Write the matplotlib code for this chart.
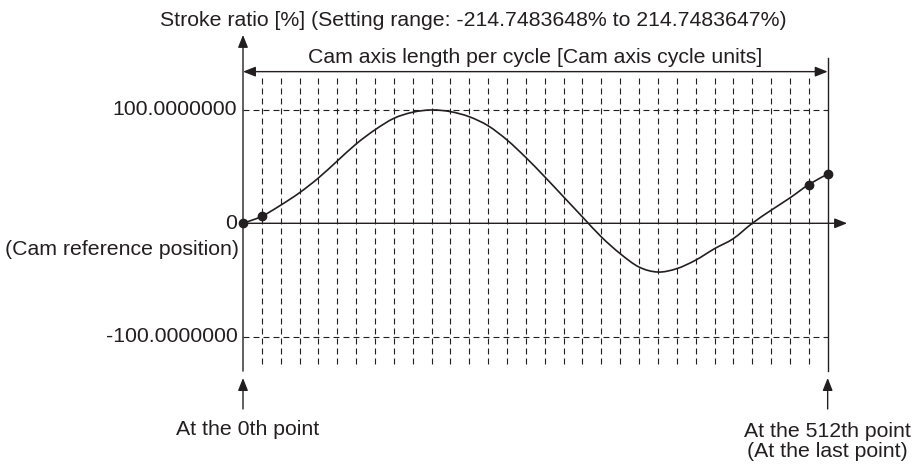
import matplotlib
matplotlib.use("Agg")
import matplotlib.pyplot as plt
from matplotlib.path import Path
from matplotlib.patches import PathPatch
import numpy as np

plt.rcParams['font.family'] = ['Liberation Sans', 'DejaVu Sans']
plt.rcParams['lines.scale_dashes'] = False

# curve values at each grid division (0th point .. last point)
stroke = [0, 6.2, 16, 27, 40, 55, 70, 82.5, 92.6, 98, 100, 98.5, 94, 86, 73.5,
          58, 41, 23.3, 5.6, -12, -26.8, -38.6, -43, -40, -32.5, -22.4, -13.5,
          0, 11.5, 22.4, 34.2, 43.4]
marked = [0, 1, 30, 31]
ytick_vals = [100, 0, -100]
ytick_labels = ["100.0000000", "0", "-100.0000000"]

title = "Stroke ratio [%] (Setting range: -214.7483648% to 214.7483647%)"
span_label = "Cam axis length per cycle [Cam axis cycle units]"
ref_label = "(Cam reference position)"
first_label = "At the 0th point"
last_label = "At the 512th point\n(At the last point)"

ink = '#231f20'
fs = 15.3
n = len(stroke) - 1
x = np.arange(len(stroke), dtype=float)
y = np.array(stroke, dtype=float)

fig = plt.figure(figsize=(9.14, 4.66), dpi=100)
ax = fig.add_axes([0, 0, 1, 1])
ax.axis('off')
sx = 18.86
sy = 1.1335
ax.set_xlim(-243 / sx, (914 - 243) / sx)
ax.set_ylim((223.3 - 466) / sy, 223.3 / sy)

dash = (0, (4.3, 2.9))
# vertical dashed grid
for k in range(1, n):
    ax.plot([k, k], [128.2, -127.7], color=ink, lw=0.8, linestyle=dash)
# horizontal dashed lines at +-100
for v in [100, -100]:
    ax.plot([0, n], [v, v], color=ink, lw=0.8, linestyle=dash)

arrow = dict(arrowstyle='-|>,head_length=0.75,head_width=0.3', color=ink,
             lw=1.0, shrinkA=0, shrinkB=0, mutation_scale=10)
dbl = dict(arrowstyle='<|-|>,head_length=0.75,head_width=0.3', color=ink,
           lw=1.0, shrinkA=0, shrinkB=0, mutation_scale=10)

# y axis with arrow
ax.annotate("", xy=(0, 166.2), xytext=(0, -130.4), arrowprops=arrow)
# right boundary
ax.plot([n, n], [146, -130.4], color=ink, lw=1.0)
# zero line with arrow
ax.annotate("", xy=(32.03, 0), xytext=(0, 0), arrowprops=arrow)
# cycle length double arrow
ax.annotate("", xy=(n, 133.8), xytext=(0, 133.8), arrowprops=dbl)
# bottom pointer arrows
for xx in [0, n]:
    ax.annotate("", xy=(xx, -136.5), xytext=(xx, -163.8), arrowprops=arrow)

# curve through the points, drawn as smooth bezier segments
pts = np.column_stack([x, y])
verts = [pts[0]]
codes = [Path.MOVETO]
for i in range(len(pts) - 1):
    p0 = pts[max(i - 1, 0)]
    p1 = pts[i]
    p2 = pts[i + 1]
    p3 = pts[min(i + 2, len(pts) - 1)]
    verts += [p1 + (p2 - p0) / 6, p2 - (p3 - p1) / 6, p2]
    codes += [Path.CURVE4] * 3
ax.add_patch(PathPatch(Path(verts, codes), fill=False, edgecolor=ink,
                       lw=1.2, zorder=3))
ax.plot(x[marked], y[marked], 'o', color=ink, ms=6, zorder=4)

# labels
for v, lab in zip(ytick_vals, ytick_labels):
    ax.text(-0.3, v, lab, ha='right', va='center', fontsize=fs, color=ink)
ax.text(-0.2, -22.9, ref_label, ha='right', va='center', fontsize=fs, color=ink)
ax.text(-4.4, 178.7, title, ha='left', va='center', fontsize=fs, color=ink)
ax.text(n / 2, 146, span_label, ha='center', va='center', fontsize=fs, color=ink)
ax.text(0.27, -181.5, first_label, ha='center', va='center', fontsize=fs, color=ink)
ax.text(n, -192.2, last_label, ha='center', va='center', fontsize=fs,
        color=ink, linespacing=1.05)

fig.savefig("out.png", dpi=100)
